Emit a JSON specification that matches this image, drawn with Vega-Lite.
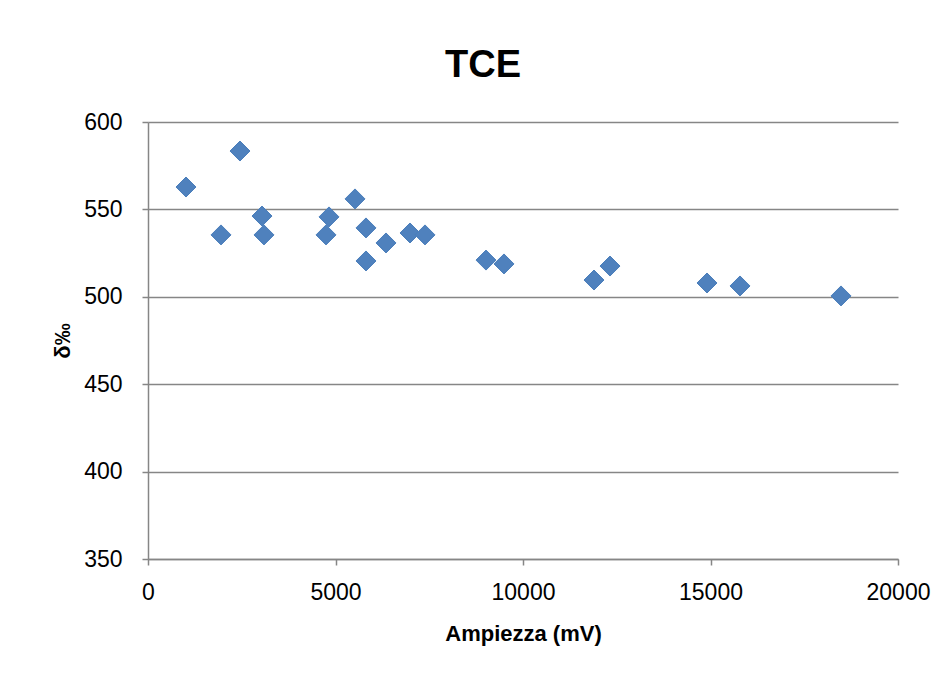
{
  "$schema": "https://vega.github.io/schema/vega-lite/v6.json",
  "autosize": {"type": "none"},
  "padding": {"left": 148, "top": 122, "right": 49, "bottom": 116},
  "width": 750,
  "height": 437,
  "background": "white",
  "title": {
    "text": "TCE",
    "font": "Liberation Sans",
    "fontSize": 38,
    "fontWeight": "bold",
    "color": "black",
    "anchor": "middle",
    "dx": -40,
    "dy": 48,
    "baseline": "alphabetic",
    "offset": 44
  },
  "config": {
    "view": {"stroke": null},
    "axis": {
      "labelFont": "Liberation Sans",
      "labelFontSize": 23,
      "labelColor": "black",
      "titleFont": "Liberation Sans",
      "titleFontSize": 22,
      "titleFontWeight": "bold",
      "titleColor": "black",
      "domainColor": "#868686",
      "domainWidth": 1.5,
      "tickColor": "#868686",
      "tickWidth": 1.5,
      "tickSize": 6,
      "gridColor": "#868686",
      "gridWidth": 1.5
    }
  },
  "data": {
    "values": [
      {"amp": 1013, "d": 562.8},
      {"amp": 1947, "d": 535.4},
      {"amp": 2453, "d": 583.4},
      {"amp": 3040, "d": 546.2},
      {"amp": 3093, "d": 535.4},
      {"amp": 4747, "d": 535.4},
      {"amp": 4827, "d": 545.7},
      {"amp": 5520, "d": 556.0},
      {"amp": 5813, "d": 539.4},
      {"amp": 5813, "d": 520.5},
      {"amp": 6347, "d": 530.8},
      {"amp": 6987, "d": 536.5},
      {"amp": 7387, "d": 535.4},
      {"amp": 9013, "d": 521.0},
      {"amp": 9493, "d": 518.8},
      {"amp": 11893, "d": 509.6},
      {"amp": 12320, "d": 517.6},
      {"amp": 14907, "d": 507.9},
      {"amp": 15787, "d": 506.2},
      {"amp": 18480, "d": 500.5}
    ]
  },
  "mark": {
    "type": "point",
    "shape": "diamond",
    "filled": true,
    "size": 400,
    "color": "#4F81BD",
    "opacity": 1,
    "stroke": "#4A7EBB",
    "strokeWidth": 1
  },
  "encoding": {
    "x": {
      "field": "amp",
      "type": "quantitative",
      "scale": {"domain": [0, 20000], "nice": false, "zero": false},
      "axis": {
        "title": "Ampiezza (mV)",
        "values": [0, 5000, 10000, 15000, 20000],
        "format": "d",
        "grid": false,
        "labelFlush": false,
        "labelPadding": 16,
        "titleX": 375,
        "titleY": 74,
        "titleBaseline": "middle",
        "titleAlign": "center"
      }
    },
    "y": {
      "field": "d",
      "type": "quantitative",
      "scale": {"domain": [350, 600], "nice": false, "zero": false},
      "axis": {
        "title": "δ‰",
        "values": [350, 400, 450, 500, 550, 600],
        "grid": true,
        "labelPadding": 20,
        "titleAngle": -90,
        "titleX": -86,
        "titleY": 218.5,
        "titleBaseline": "middle",
        "titleAlign": "center"
      }
    }
  }
}
